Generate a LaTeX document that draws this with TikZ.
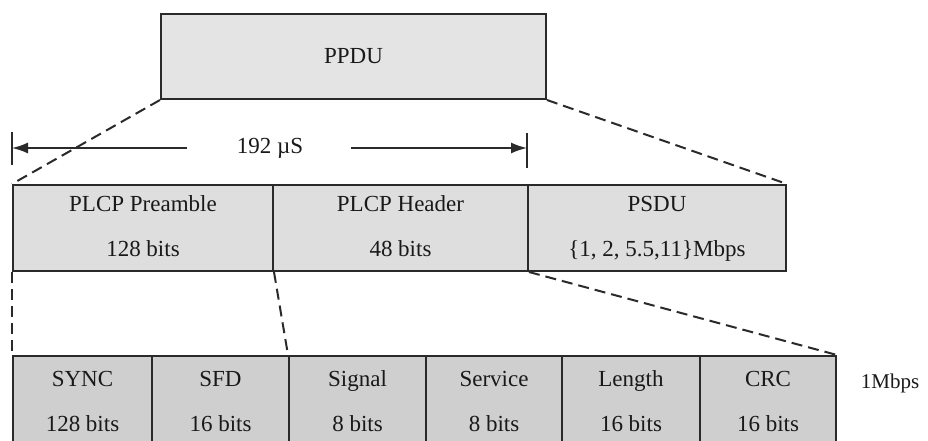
\documentclass[tikz,border=0pt]{standalone}
\usepackage{fontspec}
\setmainfont{Liberation Serif}
\usetikzlibrary{arrows.meta}
\definecolor{bordc}{HTML}{2A2A2A}
\definecolor{topfill}{HTML}{E4E4E4}
\definecolor{midfill}{HTML}{DEDEDE}
\definecolor{lowfill}{HTML}{CFCFCF}
\newcommand{\cellstrut}{\vphantom{Ag\{\}}}
\tikzset{
  cell/.style={draw=bordc, line width=2pt, inner sep=0pt, anchor=north west, align=center,
    font=\fontsize{23}{45}\selectfont, text=black!90},
  topcell/.style={cell, fill=topfill},
  midcell/.style={cell, fill=midfill, minimum height=86pt},
  lowcell/.style={cell, fill=lowfill, minimum height=95pt},
  zoomline/.style={draw=bordc, line width=2pt, dash pattern=on 11pt off 6pt},
  dimline/.style={draw=bordc, line width=1.6pt},
}
\begin{document}
\begin{tikzpicture}[x=1pt,y=-1pt]
\useasboundingbox (0,0) rectangle (928,440);
% top
\node[topcell, minimum width=385pt, minimum height=85pt] (ppdu) at (160,13) {PPDU};
% middle row
\node[midcell, minimum width=260pt] (pre) at (12,184) {\cellstrut PLCP Preamble\\\cellstrut 128 bits};
\node[midcell, minimum width=255pt] (hdr) at (272,184) {\cellstrut PLCP Header\\\cellstrut 48 bits};
\node[midcell, minimum width=258pt] (psdu) at (527,184) {\cellstrut PSDU\\\cellstrut\{1, 2, 5.5,11\}Mbps};
% bottom row
\node[lowcell, minimum width=139pt] (sync) at (12,355) {\cellstrut SYNC\\\cellstrut 128 bits};
\node[lowcell, minimum width=137pt] (sfd) at (151,355) {\cellstrut SFD\\\cellstrut 16 bits};
\node[lowcell, minimum width=137pt] (sig) at (288,355) {\cellstrut Signal\\\cellstrut 8 bits};
\node[lowcell, minimum width=136pt] (svc) at (425,355) {\cellstrut Service\\\cellstrut 8 bits};
\node[lowcell, minimum width=138pt] (len) at (561,355) {\cellstrut Length\\\cellstrut 16 bits};
\node[lowcell, minimum width=136pt] (crc) at (699,355) {\cellstrut CRC\\\cellstrut 16 bits};
\node[font=\fontsize{21}{25}\selectfont, text=black!90] (rate) at (890,383) {1Mbps};
% dimension arrow
\coordinate (L) at (12,148);
\coordinate (R) at (527,148);
\coordinate (Lt) at (12,132);
\coordinate (Lb) at (12,165);
\coordinate (Rt) at (527,133);
\coordinate (Rb) at (527,168);
\node[font=\fontsize{23}{28}\selectfont, text=black!90, inner sep=0pt] (dur) at (270,148) {192 µS};
\draw[dimline] (Lt) -- (Lb);
\draw[dimline] (Rt) -- (Rb);
\draw[dimline, -{Latex[length=16pt,width=11pt]}] ([xshift=-50pt]dur.west) -- (L);
\draw[dimline, -{Latex[length=16pt,width=11pt]}] ([xshift=48pt]dur.east) -- (R);
% zoom lines
\draw[zoomline] (ppdu.south west) -- (pre.north west);
\draw[zoomline] (ppdu.south east) -- (psdu.north east);
\draw[zoomline] (pre.south west) -- (sync.north west);
\draw[zoomline] (pre.south east) -- (sig.north west);
\draw[zoomline] (hdr.south east) -- (crc.north east);
\end{tikzpicture}
\end{document}
